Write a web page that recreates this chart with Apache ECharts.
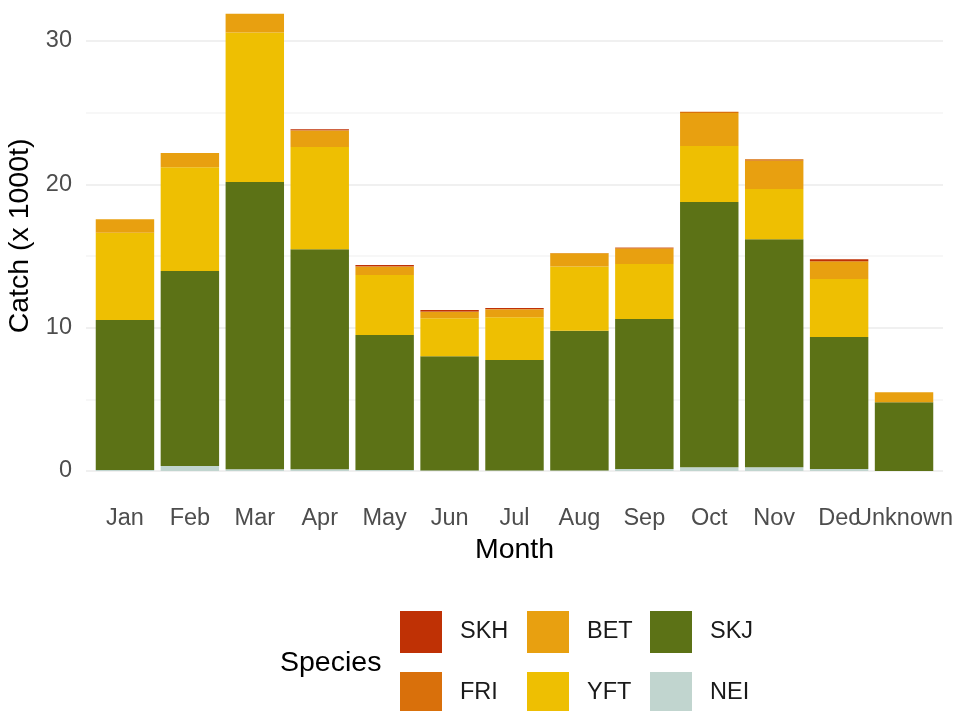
<!DOCTYPE html>
<html>
<head>
<meta charset="utf-8">
<script src="https://cdn.jsdelivr.net/npm/echarts@6/dist/echarts.min.js"></script>
<style>
  html, body { margin: 0; padding: 0; background: #fff; }
  #chart { width: 956px; height: 711px; }
</style>
</head>
<body>
<div id="chart"></div>
<script>
// months on the x axis
const months = ['Jan', 'Feb', 'Mar', 'Apr', 'May', 'Jun', 'Jul', 'Aug', 'Sep', 'Oct', 'Nov', 'Dec', 'Unknown']

// catch per species (x 1000t), stacked bottom -> top
const nei = [0.07, 0.35, 0.12, 0.12, 0.07, 0.03, 0.03, 0.03, 0.14, 0.26, 0.26, 0.14, 0]
const skj = [10.47, 13.6, 20.05, 15.35, 9.42, 7.97, 7.72, 9.76, 10.46, 18.51, 15.91, 9.21, 4.8]
const yft = [6.09, 7.25, 10.43, 7.13, 4.19, 2.65, 2.97, 4.47, 3.84, 3.91, 3.51, 4.05, 0]
const bet = [0.93, 0.99, 1.3, 1.16, 0.57, 0.45, 0.55, 0.93, 1.06, 2.3, 1.97, 1.2, 0.7]
const fri = [0, 0, 0, 0.02, 0.03, 0.03, 0.03, 0.02, 0.08, 0.09, 0.1, 0.05, 0]
const skh = [0, 0, 0, 0.06, 0.09, 0.1, 0.07, 0, 0.02, 0, 0, 0.12, 0]

const yTicks = [0, 10, 20, 30]

const colors = {
  SKH: '#BF3105',
  FRI: '#D9700B',
  BET: '#E8A010',
  YFT: '#EEBF02',
  SKJ: '#5C7216',
  NEI: '#C1D5CF'
}

const stackOrder = [
  ['NEI', nei], ['SKJ', skj], ['YFT', yft], ['BET', bet], ['FRI', fri], ['SKH', skh]
]

// legend keys, column-major like ggplot: [name, left, top]
const legendSlots = [
  ['SKH', 400, 611], ['FRI', 400, 672],
  ['BET', 527, 611], ['YFT', 527, 672],
  ['SKJ', 650, 611], ['NEI', 650, 672]
]

const font = 'Liberation Sans, Arial, sans-serif'
const tickSize = 23.5
const titleSize = 28.5
const yMax = 32.8
const gridTop = 471 - yMax * 14.333

const chart = echarts.init(document.getElementById('chart'))
chart.setOption({
  animation: false,
  textStyle: { fontFamily: font },
  grid: [
    // panel (gridlines + y axis), a bit wider than the bar bands like ggplot's expansion
    { left: 86, right: 13, top: gridTop, bottom: 240, outerBoundsMode: 'none' },
    // bar bands
    { left: 92.5, right: 19.5, top: gridTop, bottom: 240, outerBoundsMode: 'none' }
  ],
  legend: legendSlots.map(([name, left, top]) => ({
    left, top,
    padding: 0,
    data: [name],
    itemWidth: 42,
    itemHeight: 42,
    icon: 'rect',
    selectedMode: false,
    textStyle: { fontSize: tickSize, color: '#1a1a1a', fontFamily: font, padding: [0, 0, 0, 13] }
  })),
  graphic: [{
    type: 'text',
    left: 280,
    top: 649,
    style: { text: 'Species', fill: '#000', font: titleSize + 'px ' + font }
  }],
  xAxis: [{
    gridIndex: 0,
    type: 'value',
    min: 0,
    max: 1,
    show: false
  }, {
    gridIndex: 1,
    type: 'category',
    data: months,
    name: 'Month',
    nameLocation: 'middle',
    nameGap: 65,
    nameTextStyle: { fontSize: titleSize, color: '#000' },
    axisLine: { show: false },
    axisTick: { show: false },
    axisLabel: { interval: 0, margin: 36, fontSize: tickSize, color: '#4d4d4d' },
    splitLine: { show: false }
  }],
  yAxis: [{
    gridIndex: 0,
    type: 'value',
    min: 0,
    max: yMax,
    interval: 5,
    name: 'Catch (x 1000t)',
    nameLocation: 'middle',
    nameGap: 50,
    nameTextStyle: { fontSize: titleSize, color: '#000' },
    axisLine: { show: false },
    axisTick: { show: false },
    axisLabel: {
      margin: 14,
      fontSize: tickSize,
      color: '#4d4d4d',
      showMaxLabel: false,
      formatter: v => yTicks.includes(v) ? String(v) : ''
    },
    // major lines at 0/10/20/30, fainter minor lines between, none at the top edge
    splitLine: {
      lineStyle: {
        color: ['#ebebeb', '#f4f4f4', '#ebebeb', '#f4f4f4', '#ebebeb', '#f4f4f4', '#ebebeb', '#ffffff'],
        width: 1.5
      }
    }
  }, {
    gridIndex: 1,
    type: 'value',
    min: 0,
    max: yMax,
    show: false,
    splitLine: { show: false }
  }],
  series: stackOrder.map(([name, vals]) => ({
    name,
    type: 'bar',
    xAxisIndex: 1,
    yAxisIndex: 1,
    stack: 'catch',
    barWidth: '90%',
    itemStyle: { color: colors[name] },
    data: vals
  }))
})
</script>
</body>
</html>
